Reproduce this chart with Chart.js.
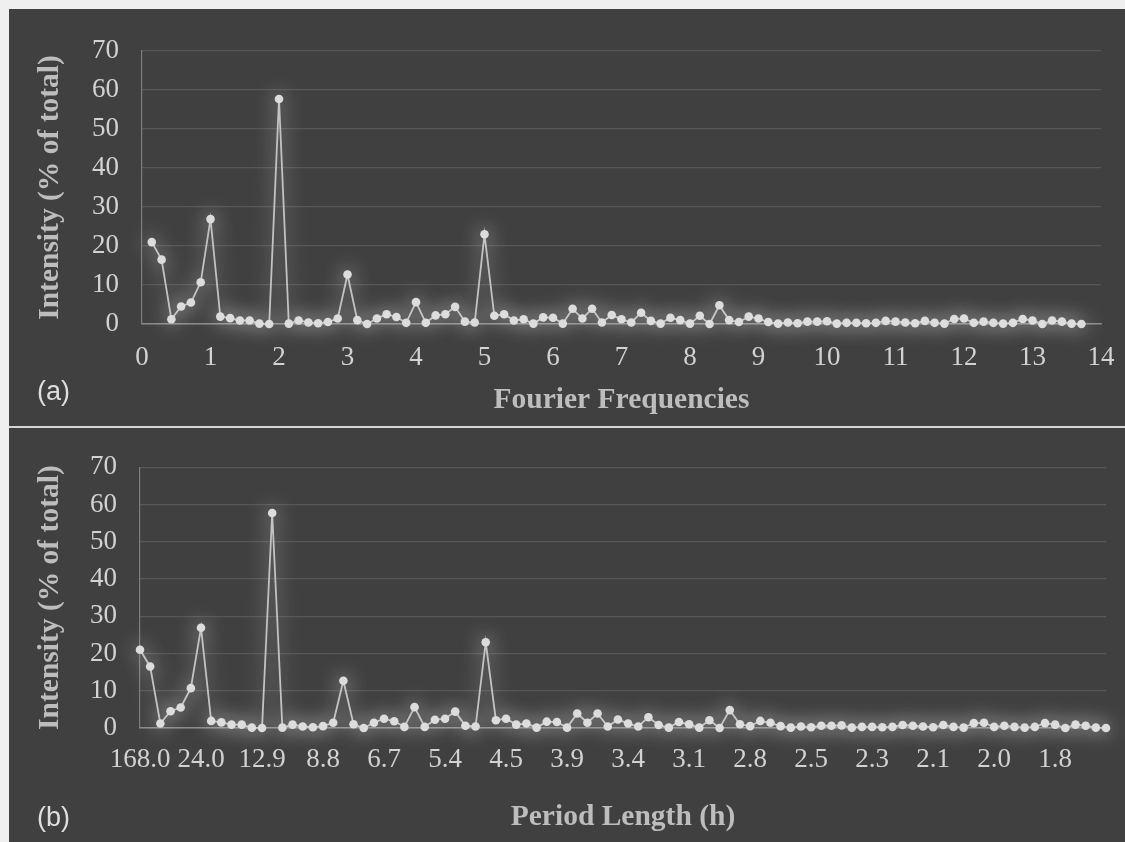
<!DOCTYPE html>
<html>
<head>
<meta charset="utf-8">
<script src="https://cdn.jsdelivr.net/npm/chart.js@4.4.1/dist/chart.umd.min.js"></script>
<style>
  html, body { margin: 0; padding: 0; }
  body { width: 1125px; height: 842px; background: #efefef; position: relative; overflow: hidden; }
  .panel { position: absolute; left: 9px; width: 1116px; background: #404040; }
  #panel-a { top: 9px; height: 417px; }
  #panel-b { top: 428px; height: 414px; }
  #sep { position: absolute; left: 9px; top: 426px; width: 1116px; height: 2px; background: #d6d6d6; }
  .tag { position: absolute; left: 28px; font-family: "Liberation Sans", Arial, sans-serif; font-size: 27px; color: #dedede; }
  canvas { position: absolute; left: 0; top: 0; }
</style>
</head>
<body>
<div class="panel" id="panel-a">
  <canvas id="chart-a" width="1116" height="417"></canvas>
  <div class="tag" style="top: 367px;">(a)</div>
</div>
<div id="sep"></div>
<div class="panel" id="panel-b">
  <canvas id="chart-b" width="1116" height="414"></canvas>
  <div class="tag" style="top: 374px;">(b)</div>
</div>
<script>
// Fourier frequencies (cycles per day), one per harmonic of the 168 h week
const frequencies = [
  0.143, 0.286, 0.429, 0.571, 0.714, 0.857, 1,
  1.143, 1.286, 1.429, 1.571, 1.714, 1.857, 2,
  2.143, 2.286, 2.429, 2.571, 2.714, 2.857, 3,
  3.143, 3.286, 3.429, 3.571, 3.714, 3.857, 4,
  4.143, 4.286, 4.429, 4.571, 4.714, 4.857, 5,
  5.143, 5.286, 5.429, 5.571, 5.714, 5.857, 6,
  6.143, 6.286, 6.429, 6.571, 6.714, 6.857, 7,
  7.143, 7.286, 7.429, 7.571, 7.714, 7.857, 8,
  8.143, 8.286, 8.429, 8.571, 8.714, 8.857, 9,
  9.143, 9.286, 9.429, 9.571, 9.714, 9.857, 10,
  10.143, 10.286, 10.429, 10.571, 10.714, 10.857, 11,
  11.143, 11.286, 11.429, 11.571, 11.714, 11.857, 12,
  12.143, 12.286, 12.429, 12.571, 12.714, 12.857, 13,
  13.143, 13.286, 13.429, 13.571, 13.714
];

// intensity (% of total) for each harmonic
const intensity = [
  21.0, 16.5, 1.2, 4.5, 5.5, 10.7, 26.9,
  1.9, 1.5, 0.9, 0.9, 0.1, 0.0, 57.7,
  0.1, 0.9, 0.4, 0.2, 0.5, 1.4, 12.7,
  1.0, 0.0, 1.4, 2.5, 1.8, 0.3, 5.6,
  0.3, 2.2, 2.5, 4.4, 0.6, 0.4, 23.0,
  2.1, 2.5, 0.9, 1.2, 0.1, 1.7, 1.6,
  0.1, 3.9, 1.4, 3.9, 0.4, 2.3, 1.2,
  0.4, 2.9, 0.8, 0.1, 1.6, 1.0, 0.1,
  2.1, 0.0, 4.8, 1.0, 0.5, 1.9, 1.4,
  0.5, 0.1, 0.4, 0.2, 0.6, 0.6, 0.7,
  0.1, 0.3, 0.3, 0.2, 0.3, 0.8, 0.6,
  0.4, 0.2, 0.8, 0.3, 0.1, 1.3, 1.4,
  0.3, 0.6, 0.3, 0.1, 0.3, 1.3, 0.9,
  0.0, 0.9, 0.6, 0.1, 0.0
];

// period labels shown on the lower axis (every 6th harmonic)
const periodTicks = ["168.0", "24.0", "12.9", "8.8", "6.7", "5.4", "4.5", "3.9",
  "3.4", "3.1", "2.8", "2.5", "2.3", "2.1", "2.0", "1.8"];
const periodStep = 6;

const serif = "'Liberation Serif', 'Times New Roman', serif";
const tickColor = "#d2d2d2";
const titleColor = "#bdbdbd";

// soft white glow round the line and markers
const glow = {
  id: "glow",
  beforeDatasetsDraw(chart) {
    chart.ctx.save();
    chart.ctx.shadowColor = "rgba(255,255,255,0.7)";
    chart.ctx.shadowBlur = 20;
  },
  afterDatasetsDraw(chart) {
    chart.ctx.restore();
  },
};

const lineStyle = {
  borderColor: "#c2c2c2",
  borderWidth: 1.8,
  pointRadius: 4.3,
  pointBackgroundColor: "#dcdcdc",
  pointBorderWidth: 0,
  tension: 0,
  clip: false,
};

function yScale(width) {
  return {
    min: 0,
    max: 70,
    ticks: { stepSize: 10, color: tickColor, font: { family: serif, size: 27 }, padding: 23 },
    grid: { color: "#575757", lineWidth: 1.2, drawTicks: false },
    border: { display: true, color: "#7d7d7d", width: 1.2 },
    title: {
      display: true,
      text: "Intensity (% of total)",
      color: titleColor,
      font: { family: serif, size: 29.5, weight: "bold" },
      padding: { top: 24, bottom: 0 },
    },
    afterFit: (scale) => { scale.width = width; },
  };
}

Chart.defaults.font.family = serif;

new Chart(document.getElementById("chart-a"), {
  type: "line",
  data: {
    datasets: [
      {
        label: "Intensity",
        data: frequencies.map((f, i) => ({ x: f, y: intensity[i] })),
        ...lineStyle,
      },
    ],
  },
  options: {
    responsive: false,
    animation: false,
    layout: { padding: { left: 0, right: 24, top: 42, bottom: 0 } },
    plugins: { legend: { display: false }, tooltip: { enabled: false } },
    scales: {
      x: {
        type: "linear",
        min: 0,
        max: 14,
        ticks: { stepSize: 1, color: tickColor, font: { family: serif, size: 27 }, padding: 18, maxRotation: 0 },
        grid: { drawOnChartArea: false, drawTicks: false },
        border: { display: true, color: "#8a8a8a", width: 1.5 },
        title: {
          display: true,
          text: "Fourier Frequencies",
          color: titleColor,
          font: { family: serif, size: 29.5, weight: "bold" },
          padding: { top: 0, bottom: 8 },
        },
        afterFit: (scale) => {
          scale.height = 102;
          scale.paddingLeft = 0;
          scale.paddingRight = 0;
        },
      },
      y: yScale(133),
    },
  },
  plugins: [glow],
});

const periodLabels = intensity.map((v, i) =>
  i % periodStep === 0 ? periodTicks[i / periodStep] : ""
);

new Chart(document.getElementById("chart-b"), {
  type: "line",
  data: {
    labels: periodLabels,
    datasets: [
      {
        label: "Intensity",
        data: intensity,
        ...lineStyle,
      },
    ],
  },
  options: {
    responsive: false,
    animation: false,
    layout: { padding: { left: 0, right: 19, top: 37, bottom: 0 } },
    plugins: { legend: { display: false }, tooltip: { enabled: false } },
    scales: {
      x: {
        offset: false,
        ticks: { autoSkip: false, color: tickColor, font: { family: serif, size: 27 }, padding: 16, maxRotation: 0 },
        grid: { drawOnChartArea: false, drawTicks: false },
        border: { display: true, color: "#8a8a8a", width: 1.5 },
        title: {
          display: true,
          text: "Period Length (h)",
          color: titleColor,
          font: { family: serif, size: 29.5, weight: "bold" },
          padding: { top: 0, bottom: 7 },
        },
        afterFit: (scale) => { scale.height = 114; },
      },
      y: yScale(131),
    },
  },
  plugins: [glow],
});
</script>
</body>
</html>
